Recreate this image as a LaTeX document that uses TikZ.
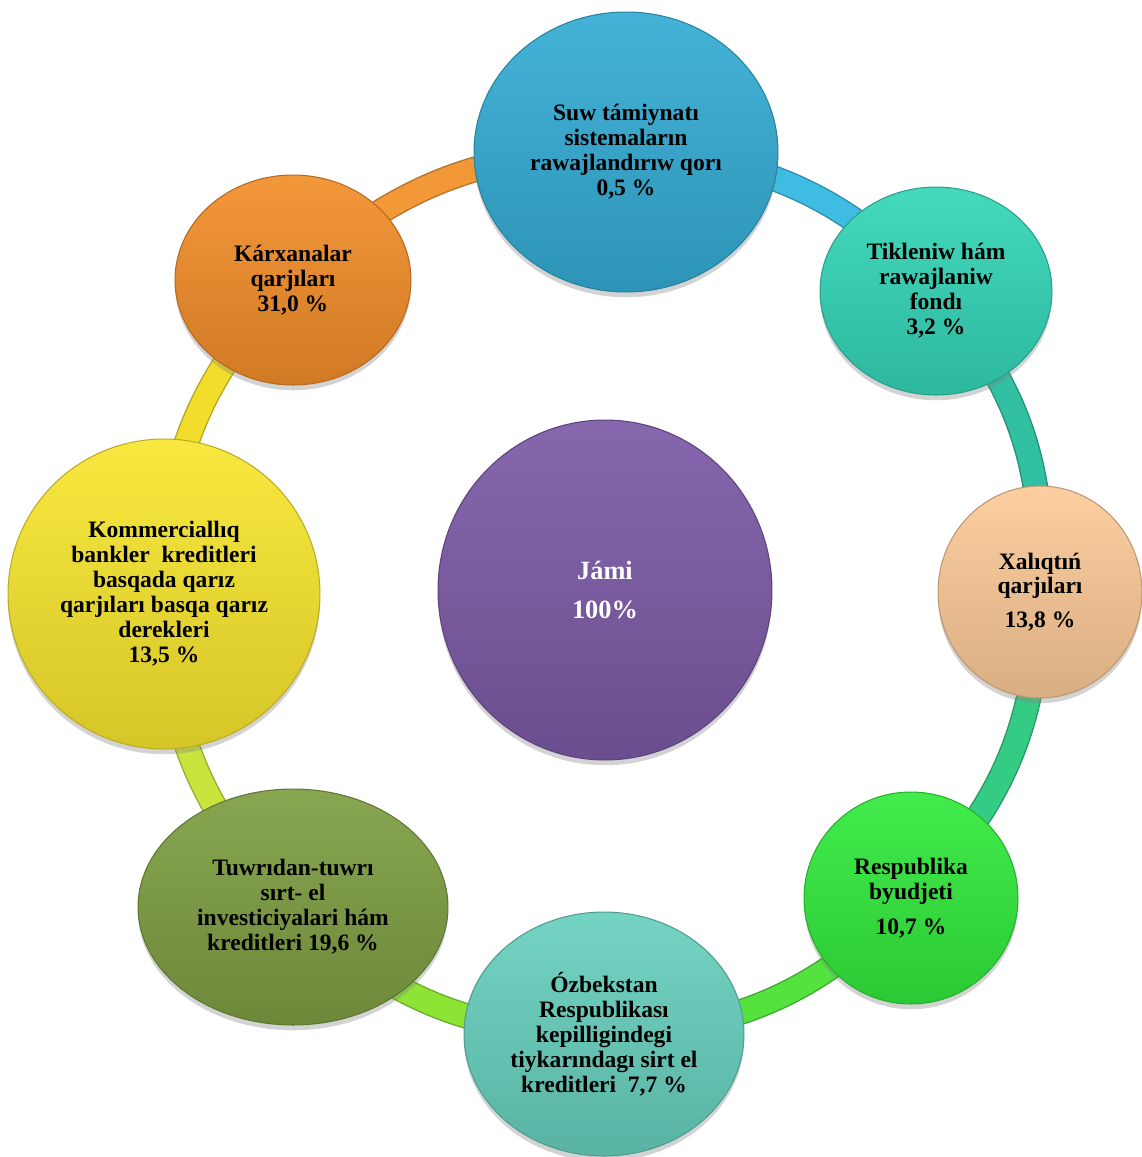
\documentclass[tikz,border=0pt]{standalone}
\usepackage{fontspec}
\setmainfont{Liberation Serif}
\usetikzlibrary{shapes.geometric,shadows,backgrounds}

\definecolor{cSuw}{RGB}{52,172,212}
\definecolor{cTik}{RGB}{52,214,184}
\definecolor{cXal}{RGB}{252,202,152}
\definecolor{cRes}{RGB}{50,234,60}
\definecolor{cOzb}{RGB}{104,208,190}
\definecolor{cTuw}{RGB}{126,158,66}
\definecolor{cKom}{RGB}{248,230,46}
\definecolor{cKar}{RGB}{242,142,42}
\definecolor{cJam}{RGB}{124,90,166}

\definecolor{rKar}{RGB}{242,152,54}
\definecolor{rSuw}{RGB}{62,188,226}
\definecolor{rTik}{RGB}{50,192,162}
\definecolor{rXal}{RGB}{52,204,132}
\definecolor{rRes}{RGB}{84,226,62}
\definecolor{rOzb}{RGB}{142,228,52}
\definecolor{rTuw}{RGB}{202,228,62}
\definecolor{rKom}{RGB}{242,222,42}

\begin{document}
\begin{tikzpicture}[x=0.02cm,y=-0.02cm,
        bubble/.style={ellipse,draw=#1!75!black,line width=0.6pt,
            top color=#1!92!white,bottom color=#1!86!black,
            align=center,inner sep=0pt,
            drop shadow={opacity=0.35,shadow xshift=0pt,shadow yshift=-3pt},
            font=\bfseries\fontsize{13.4}{14.2}\selectfont},
        ring/.style={line width=0.8pt,draw=#1!75!black,double=#1,double distance=13pt}]
                \useasboundingbox (0,0) rectangle (1142,1157);

                % outer circles
                \node[bubble=cSuw,minimum width=6.08cm,minimum height=5.6cm] (suw) at (626,152)
                    {Suw támiynatı\\sistemaların\\rawajlandırıw qorı\\0,5 \%};
                \node[bubble=cTik,minimum width=4.64cm,minimum height=4.16cm] (tik) at (936,291)
                    {Tikleniw hám\\rawajlaniw\\fondı\\3,2 \%};
                \node[bubble=cXal,minimum width=4.08cm,minimum height=4.24cm] (xal) at (1040,592)
                    {Xalıqtıń\\qarjıları\\[5pt]13,8 \%};
                \node[bubble=cRes,minimum width=4.28cm,minimum height=4.24cm] (res) at (911,898)
                    {Respublika\\byudjeti\\[5.5pt]10,7 \%};
                \node[bubble=cOzb,minimum width=5.6cm,minimum height=4.88cm] (ozb) at (604,1034)
                    {Ózbekstan\\Respublikası\\kepilligindegi\\tiykarındagı sirt el\\kreditleri~ 7,7 \%};
                \node[bubble=cTuw,minimum width=6.2cm,minimum height=4.72cm] (tuw) at (293,907)
                    {Tuwrıdan-tuwrı\\sırt- el\\investiciyalari hám\\kreditleri 19,6 \%};
                \node[bubble=cKom,minimum width=6.24cm,minimum height=6.2cm] (kom) at (164,594)
                    {Kommerciallıq\\bankler~ kreditleri\\basqada qarız\\qarjıları basqa qarız\\derekleri\\13,5 \%};
                \node[bubble=cKar,minimum width=4.72cm,minimum height=4.2cm] (kar) at (293,280)
                    {Kárxanalar\\qarjıları\\31,0 \%};

                % centre
                \node[bubble=cJam,minimum width=6.68cm,minimum height=6.8cm,text=white,
                    font=\bfseries\fontsize{15}{22}\selectfont] (jami) at (605,590)
                    {Jámi\\100\%};

                % ring
                \begin{scope}[on background layer]
                \draw[ring=rKar] (kar.center) to[bend left=22] (suw.center);
                \draw[ring=rSuw] (suw.center) to[bend left=22] (tik.center);
                \draw[ring=rTik] (tik.center) to[bend left=22] (xal.center);
                \draw[ring=rXal] (xal.center) to[bend left=22] (res.center);
                \draw[ring=rRes] (res.center) to[bend left=22] (ozb.center);
                \draw[ring=rOzb] (ozb.center) to[bend left=22] (tuw.center);
                \draw[ring=rTuw] (tuw.center) to[bend left=22] (kom.center);
                \draw[ring=rKom] (kom.center) to[bend left=22] (kar.center);
                \end{scope}
\end{tikzpicture}
\end{document}
